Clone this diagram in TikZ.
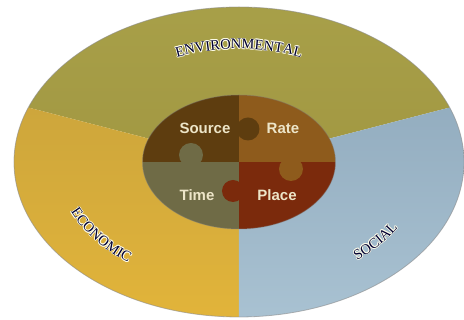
\documentclass[tikz,border=0pt]{standalone}
\usepackage{fontspec}
\setmainfont{Liberation Serif}
\newfontfamily\piecefont{Liberation Sans}
\usetikzlibrary{decorations.text}
\definecolor{envtop}{HTML}{A8A049}
\definecolor{envbot}{HTML}{A29842}
\definecolor{ecotop}{HTML}{C9A33C}
\definecolor{ecobot}{HTML}{E3B53A}
\definecolor{soctop}{HTML}{8FA9BC}
\definecolor{socbot}{HTML}{AAC3D3}
\definecolor{sourcecol}{HTML}{5E3D0F}
\definecolor{ratecol}{HTML}{8E5B1C}
\definecolor{timecol}{HTML}{6F6B46}
\definecolor{placecol}{HTML}{7B2A0C}
\definecolor{piecetext}{HTML}{EDE5C8}
\colorlet{sectorink}{blue!20!black}
\newcommand\sectorfont{\fontsize{14.5}{16}\selectfont}
\newcommand\sectorlabel[4]{%
  \foreach \dx/\dy in {0.8/0,-0.8/0,0/0.8,0/-0.8,0.6/0.6,-0.6/0.6,0.6/-0.6,-0.6/-0.6}
    \path[sector glow, shift={(\dx,\dy)}, decoration={text={|\sectorfont|#4}}]
      (#1:#3 and #3/1.45) arc[start angle=#1, end angle=#2, x radius=#3, y radius=#3/1.45];
  \path[sector text, decoration={text={|\sectorfont|#4}}]
    (#1:#3 and #3/1.45) arc[start angle=#1, end angle=#2, x radius=#3, y radius=#3/1.45];
}

\begin{document}
\begin{tikzpicture}[x=1pt,y=1pt]
\tikzset{
  sector glow/.style={decorate, decoration={text along path, text align=center, text color=white!92!yellow}},
  sector text/.style={decorate, decoration={text along path, text align=center, text color=sectorink}},
  piece/.style={font=\piecefont\bfseries\fontsize{15}{17}\selectfont, text=piecetext, inner sep=0}
}
\useasboundingbox (-239,-158) rectangle (225,162);
\coordinate (O) at (0,0);
\begin{scope}
\clip (O) ellipse [x radius=225, y radius=155];
\shade[top color=envtop, bottom color=envbot] (O) -- (14.5:400) -- (387,170) -- (-387,170) -- (165.5:400) -- cycle;
\shade[top color=ecotop, bottom color=ecobot] (O) -- (165.5:400) -- (-387,-170) -- (0,-170) -- cycle;
\shade[top color=soctop, bottom color=socbot] (O) -- (0,-170) -- (387,-170) -- (14.5:400) -- cycle;
\end{scope}
\draw[black!45, opacity=0.6, line width=0.8] (O) ellipse [x radius=225, y radius=155];
\begin{scope}
\clip (O) ellipse [x radius=96.5, y radius=67];
\fill[sourcecol] (-100,0) rectangle (0,70);
\fill[ratecol] (0,0) rectangle (100,70);
\fill[timecol] (-100,-70) rectangle (0,0);
\fill[placecol] (0,-70) rectangle (100,0);
\fill[sourcecol] (9,33) circle (11.5);
\fill[timecol] (-48,7) circle (12);
\fill[ratecol] (52,-7) circle (12);
\fill[placecol] (-6,-29) circle (11);
\end{scope}
\draw[black!50, opacity=0.35, line width=1] (O) ellipse [x radius=96.5, y radius=67];
\node[piece] (source) at (-34,34) {Source};
\node[piece] (rate) at (44,34) {Rate};
\node[piece] (time) at (-42,-33) {Time};
\node[piece] (place) at (38,-33) {Place};
\sectorlabel{135}{45}{164}{ENVIRONMENTAL}
\sectorlabel{186}{246}{183}{ECONOMIC}
\sectorlabel{296}{346}{185}{SOCIAL}
\end{tikzpicture}
\end{document}
